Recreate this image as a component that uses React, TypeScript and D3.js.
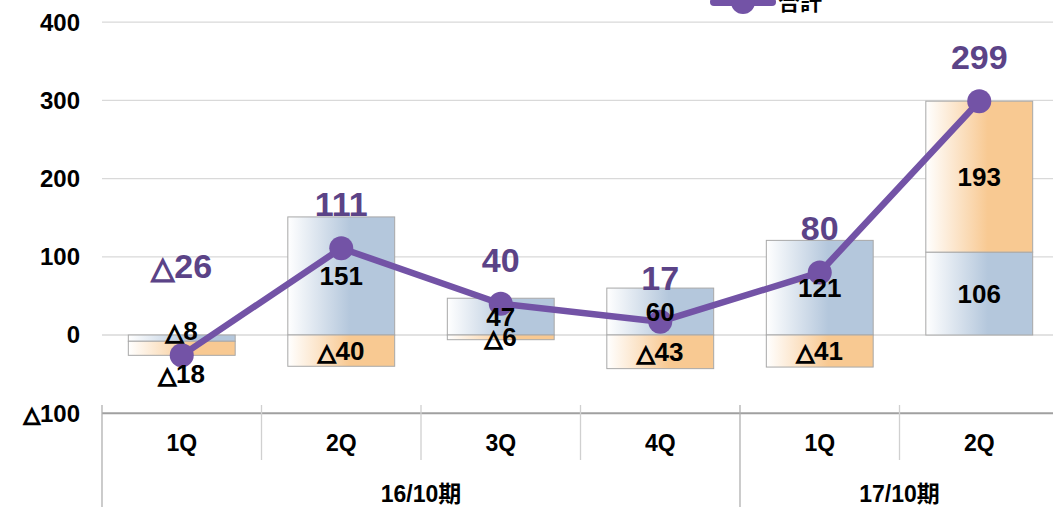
import React from 'react';
import * as d3 from 'd3';

const quarters = ['1Q', '2Q', '3Q', '4Q', '1Q', '2Q'];
const periodNames = ['16/10期', '17/10期'];
const periodSpans = [4, 2];
const seriesBlue = [-8, 151, 47, 60, 121, 106];
const seriesOrange = [-18, -40, -6, -43, -41, 193];
const totals = [-26, 111, 40, 17, 80, 299];
const yTicks = [-100, 0, 100, 200, 300, 400];
const legendLabel = '合計';

const W = 1053;
const H = 507;
const FONT = '"Liberation Sans", Arial, "Noto Sans CJK JP", sans-serif';
const BLUE = '#b4c7dc';
const ORANGE = '#f8c992';
const PURPLE = '#7353a6';
const PURPLE_TEXT = '#5b4387';

function Num({ v, color }: { v: number; color: string }) {
  if (v >= 0) return <>{String(v)}</>;
  return (
    <>
      <tspan fontFamily='"DejaVu Sans", sans-serif' fontSize="0.88em" stroke={color} strokeWidth={1.6}>△</tspan>
      <tspan>{String(Math.abs(v))}</tspan>
    </>
  );
}

export default function App() {
  const x = d3.scaleBand<number>()
    .domain(d3.range(quarters.length))
    .range([102, 1059])
    .paddingInner(0.33)
    .paddingOuter(0.165);
  const y = d3.scaleLinear().domain([-100, 400]).range([413.2, 22.2]);
  const step = x.step();
  const left = 102;

  const rows = quarters.map((_, i) => ({ blue: seriesBlue[i], orange: seriesOrange[i] }));
  const stack = d3.stack<any>().keys(['blue', 'orange']).offset(d3.stackOffsetDiverging);
  const layers = stack(rows);
  const colors: Record<string, string> = { blue: 'gradBlue', orange: 'gradOrange' };

  const cx = (i: number) => (x(i) as number) + x.bandwidth() / 2;
  const line = d3.line<number>().x((_, i) => cx(i)).y((d) => y(d));

  const bounds: number[] = [0];
  periodSpans.forEach((s) => bounds.push(bounds[bounds.length - 1] + s));

  return (
    <svg width={W} height={H} style={{ position: 'fixed', left: 0, top: 0, background: '#fff' }} fontFamily={FONT}>
      <defs>
        <linearGradient id="gradBlue" x1="0" x2="1" y1="0" y2="0">
          <stop offset="0" stopColor="#ffffff" />
          <stop offset="0.58" stopColor={BLUE} />
          <stop offset="1" stopColor={BLUE} />
        </linearGradient>
        <linearGradient id="gradOrange" x1="0" x2="1" y1="0" y2="0">
          <stop offset="0" stopColor="#ffffff" />
          <stop offset="0.58" stopColor={ORANGE} />
          <stop offset="1" stopColor={ORANGE} />
        </linearGradient>
      </defs>

      {yTicks.filter((t) => t > -100).map((t) => (
        <line key={t} x1={left} x2={W} y1={y(t)} y2={y(t)} stroke="#d9d9d9" strokeWidth={1.3} />
      ))}

      {yTicks.map((t) => (
        <text key={t} x={80} y={y(t)} dy="0.35em" textAnchor="end" fontSize={24} fontWeight="bold" fill="#000">
          <Num v={t} color="#000" />
        </text>
      ))}

      {layers.map((layer) =>
        layer.map((d, i) => {
          const y0 = y(Math.max(d[0], d[1]));
          const y1 = y(Math.min(d[0], d[1]));
          return (
            <rect key={layer.key + i} x={x(i)} y={y0} width={x.bandwidth()} height={Math.max(0, y1 - y0)}
              fill={`url(#${colors[layer.key]})`} stroke="#a8a8a8" strokeWidth={1} />
          );
        })
      )}

      <line x1={left} x2={W} y1={y(-100)} y2={y(-100)} stroke="#a0a0a0" strokeWidth={2} />
      {d3.range(quarters.length + 1).map((i) => {
        const xx = left + i * step;
        const full = bounds.includes(i);
        return (
          <line key={'v' + i} x1={xx} x2={xx} y1={405} y2={full ? H : 460} stroke={full ? '#b0b0b0' : '#d0d0d0'} strokeWidth={1.3} />
        );
      })}
      {quarters.map((q, i) => (
        <text key={'q' + i} x={cx(i)} y={443} dy="0.35em" textAnchor="middle" fontSize={23} fontWeight="bold" fill="#000">
          {q}
        </text>
      ))}
      {periodNames.map((p, k) => (
        <text key={p} x={left + ((bounds[k] + bounds[k + 1]) / 2) * step} y={494} dy="0.35em" textAnchor="middle"
          fontSize={23} fontWeight="bold" fill="#000">
          {p}
        </text>
      ))}

      <path d={line(totals) || ''} fill="none" stroke={PURPLE} strokeWidth={6.5} strokeLinejoin="round" />
      {totals.map((t, i) => (
        <circle key={'c' + i} cx={cx(i)} cy={y(t)} r={12} fill={PURPLE} />
      ))}

      {layers.map((layer) =>
        layer.map((d, i) => {
          const v = (rows[i] as any)[layer.key] as number;
          const allNeg = totals[i] < 0;
          let ly = y((d[0] + d[1]) / 2);
          if (allNeg) {
            ly = layer.key === 'blue' ? y(0) - 4 : y(Math.min(d[0], d[1])) + 19;
          }
          return (
            <text key={'l' + layer.key + i} x={cx(i)} y={ly} dy="0.35em" textAnchor="middle" fontSize={26}
              fontWeight="bold" fill="#000">
              <Num v={v} color="#000" />
            </text>
          );
        })
      )}

      {totals.map((t, i) => (
        <text key={'t' + i} x={cx(i)} y={t < 0 ? y(0) - 69 : y(t) - 44} dy="0.35em" textAnchor="middle"
          fontSize={34} fontWeight="bold" fill={PURPLE_TEXT}>
          <Num v={t} color={PURPLE_TEXT} />
        </text>
      ))}

      <line x1={714} x2={772} y1={2} y2={2} stroke={PURPLE} strokeWidth={8} strokeLinecap="round" />
      <circle cx={743} cy={2} r={12} fill={PURPLE} />
      <text x={778} y={10} fontSize={22} fontWeight="bold" fill="#000">{legendLabel}</text>
    </svg>
  );
}
